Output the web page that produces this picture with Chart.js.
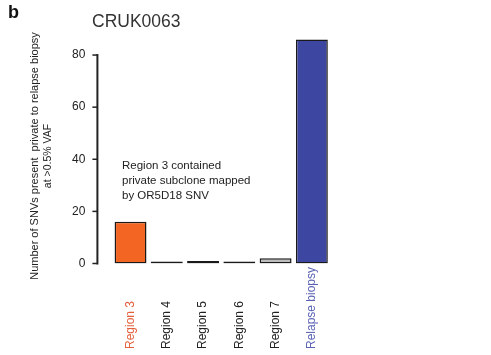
<!DOCTYPE html>
<html>
<head>
<meta charset="utf-8">
<script src="https://cdn.jsdelivr.net/npm/chart.js@4.4.1/dist/chart.umd.min.js"></script>
<style>
  html, body { margin: 0; padding: 0; background: #fff; }
  canvas { display: block; }
</style>
</head>
<body>
<canvas id="snvChart" width="491" height="355"></canvas>
<script>
// data
const regions = ["Region 3", "Region 4", "Region 5", "Region 6", "Region 7", "Relapse biopsy"];
const snvCounts = [16, 0, 1, 0, 2, 86];
const yTicks = [0, 20, 40, 60, 80];

const barColors = ["#f26522", "#555555", "#3a3a3a", "#555555", "#bdbdbd", "#3d47a1"];
const labelColors = ["#e4603c", "#222222", "#222222", "#222222", "#222222", "#5a63b3"];
const yTitle = ["Number of SNVs present  private to relapse biopsy", "at >0.5% VAF"];
const noteLines = ["Region 3 contained", "private subclone mapped", "by OR5D18 SNV"];

const FONT = "'Liberation Sans', Arial, sans-serif";

// y axis line only runs from 0 to 80, set a bit left of the first bar
const axisLine = {
  id: "axisLine",
  afterDraw(chart) {
    const ctx = chart.ctx;
    const y = chart.scales.y;
    const x = chart.scales.x;
    const ax = chart.chartArea.left - 15;

    ctx.save();
    ctx.strokeStyle = "#222";
    ctx.lineWidth = 2;
    ctx.beginPath();
    ctx.moveTo(ax, y.getPixelForValue(0) + 1);
    ctx.lineTo(ax, y.getPixelForValue(80) - 1);
    ctx.stroke();

    ctx.lineWidth = 1.5;
    yTicks.forEach(function (v) {
      const py = y.getPixelForValue(v);
      ctx.beginPath();
      ctx.moveTo(ax - 5, py);
      ctx.lineTo(ax, py);
      ctx.stroke();
    });

    // category labels, reading upwards, starting at the bottom
    ctx.font = "12px " + FONT;
    ctx.textAlign = "left";
    ctx.textBaseline = "middle";
    regions.forEach(function (label, i) {
      ctx.save();
      ctx.translate(x.getPixelForTick(i), 349);
      ctx.rotate(-Math.PI / 2);
      ctx.fillStyle = labelColors[i];
      ctx.fillText(label, 0, 0);
      ctx.restore();
    });

    // y axis title, two lines
    ctx.fillStyle = "#222";
    ctx.textAlign = "center";
    ctx.save();
    ctx.translate(35, 156);
    ctx.rotate(-Math.PI / 2);
    ctx.font = "11px " + FONT;
    ctx.fillText(yTitle[0], 0, 0);
    ctx.font = "10.5px " + FONT;
    ctx.fillText(yTitle[1], 0, 13);
    ctx.restore();

    // panel letter and title
    ctx.textAlign = "left";
    ctx.fillStyle = "#111";
    ctx.font = "bold 18px " + FONT;
    ctx.fillText("b", 8, 13);
    ctx.fillStyle = "#333";
    ctx.font = "17.5px " + FONT;
    ctx.fillText("CRUK0063", 92, 22);

    // annotation
    ctx.fillStyle = "#222";
    ctx.font = "11.5px " + FONT;
    noteLines.forEach(function (line, i) {
      ctx.fillText(line, 122, 166 + i * 15);
    });
    ctx.restore();
  }
};

new Chart(document.getElementById("snvChart"), {
  type: "bar",
  data: {
    labels: regions,
    datasets: [{
      data: snvCounts,
      backgroundColor: barColors,
      borderColor: "#1a1a1a",
      borderWidth: 1.5,
      borderSkipped: false,
      minBarLength: 2,
      barPercentage: 0.88,
      categoryPercentage: 1.0
    }]
  },
  options: {
    responsive: false,
    animation: false,
    layout: {
      padding: { left: 22, top: 20, right: 161, bottom: 0 }
    },
    plugins: {
      legend: { display: false },
      tooltip: { enabled: false }
    },
    scales: {
      x: {
        grid: { display: false },
        border: { display: false },
        ticks: { display: false },
        afterFit: function (scale) {
          scale.height = 91.5;
        }
      },
      y: {
        min: 0,
        max: 88,
        grid: { display: false, drawTicks: false },
        border: { display: false },
        afterBuildTicks: function (scale) {
          scale.ticks = yTicks.map(function (v) { return { value: v }; });
        },
        afterFit: function (scale) {
          scale.width = 90.4;
        },
        ticks: {
          padding: 27,
          color: "#222",
          font: { family: FONT, size: 12 }
        }
      }
    }
  },
  plugins: [axisLine]
});
</script>
</body>
</html>
